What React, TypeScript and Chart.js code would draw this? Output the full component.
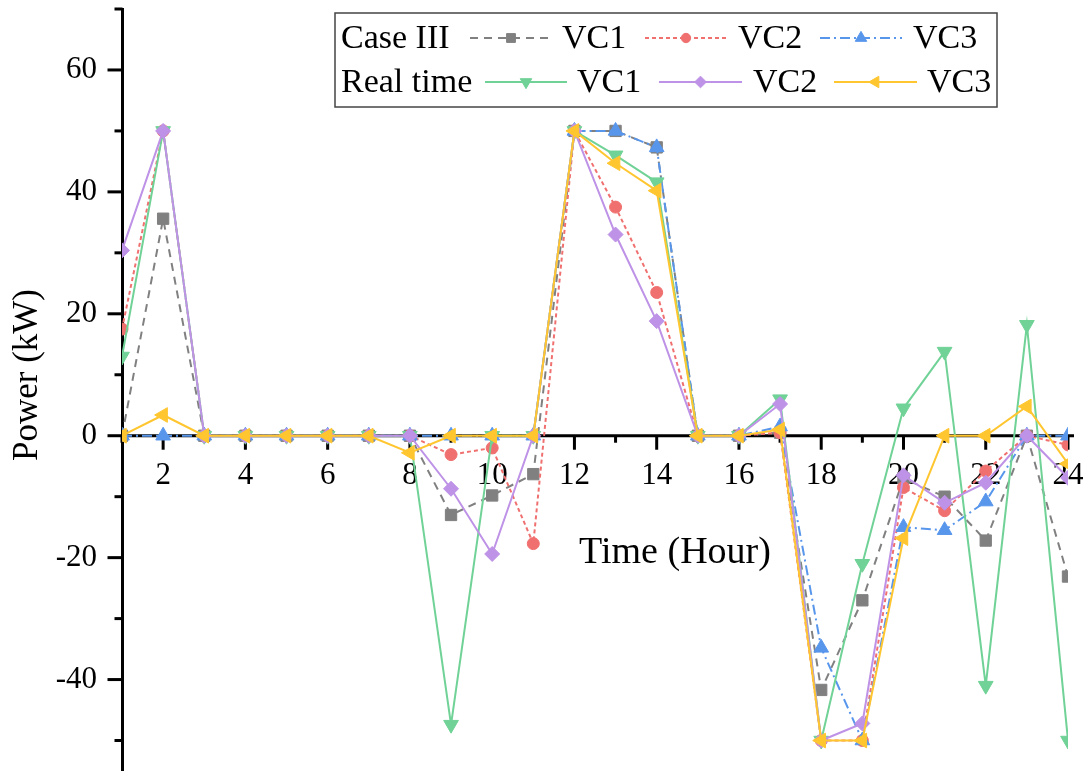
import React, { useEffect, useRef } from 'react';
import { Chart, registerables } from 'chart.js';
import { drawPoint } from 'chart.js/helpers';

Chart.register(...registerables);

const hours = [1, 2, 3, 4, 5, 6, 7, 8, 9, 10, 11, 12, 13, 14, 15, 16, 17, 18, 19, 20, 21, 22, 23, 24];

const caseIII_VC1 = [0, 35.6, 0, 0, 0, 0, 0, 0, -13, -9.8, -6.3, 50, 50, 47.3, 0, 0, 0.5, -41.7, -27, -7, -10, -17.2, 0, -23.1];
const caseIII_VC2 = [17.5, 50, 0, 0, 0, 0, 0, 0, -3.1, -2, -17.7, 50, 37.5, 23.5, 0, 0, 0.5, -50, -50, -8.5, -12.3, -5.8, 0, -1.5];
const caseIII_VC3 = [0, 0, 0, 0, 0, 0, 0, 0, 0, 0, 0, 50, 50, 47.3, 0, 0, 1.5, -34.8, -50, -15, -15.5, -10.8, 0, 0];
const real_VC1 = [13, 50, 0, 0, 0, 0, 0, 0, -47.4, 0, 0, 50, 46, 41.6, 0, 0, 6, -50, -21, 4.5, 13.8, -41, 18.2, -50];
const real_VC2 = [30.4, 50, 0, 0, 0, 0, 0, 0, -8.7, -19.4, 0, 50, 33, 18.8, 0, 0, 5.2, -50, -47.2, -6.5, -11, -7.7, 0, -6.9];
const real_VC3 = [0, 3.4, 0, 0, 0, 0, 0, -2.8, 0, 0, 0, 50, 44.7, 40.2, 0, 0, 1, -50, -50, -16.8, 0, 0, 4.8, -4.6];

const xTickValues = [2, 4, 6, 8, 10, 12, 14, 16, 18, 20, 22, 24];
const xMinorTickValues = [1, 3, 5, 7, 9, 11, 13, 15, 17, 19, 21, 23];
const yTickValues = [-40, -20, 0, 20, 40, 60];
const yMinorTickValues = [-50, -30, -10, 10, 30, 50, 70];

const groupLabels = ['Case III', 'Real time'];
const seriesLabels = ['VC1', 'VC2', 'VC3'];

const FONT = '"Liberation Serif", "Times New Roman", serif';

const pts = (vals: number[]) => vals.map((v, i) => ({ x: hours[i], y: v }));

const GRAY = 'rgb(128,128,128)';
const RED = 'rgb(240,112,112)';
const BLUE = 'rgb(88,150,236)';
const GREEN = 'rgb(112,210,150)';
const PURPLE = 'rgb(190,146,230)';
const YELLOW = 'rgb(255,198,48)';

function mk(label: string, vals: number[], color: string, dash: number[], style: string, radius: number, rotation: number, order: number) {
  return {
    label,
    data: pts(vals),
    borderColor: color,
    backgroundColor: color,
    borderWidth: 2,
    borderDash: dash,
    pointStyle: style,
    pointRadius: radius,
    pointRotation: rotation,
    pointBackgroundColor: color,
    pointBorderColor: color,
    pointBorderWidth: 1,
    tension: 0,
    order,
    clip: 0,
  };
}

const zeroPadding = (s: any) => {
  s.paddingLeft = 0;
  s.paddingRight = 0;
  s.paddingTop = 0;
  s.paddingBottom = 0;
};

const axesPlugin = {
  id: 'customAxes',
  beforeDatasetsDraw(chart: any) {
    const { ctx, chartArea, scales } = chart;
    const x = scales.x;
    const y = scales.y;
    ctx.save();
    ctx.strokeStyle = '#000';
    ctx.lineWidth = 3;
    ctx.lineCap = 'butt';
    const left = chartArea.left + 0.5;
    ctx.beginPath();
    ctx.moveTo(left, chartArea.top - 1);
    ctx.lineTo(left, chartArea.bottom + 2);
    ctx.stroke();
    yTickValues.forEach((v) => {
      const p = y.getPixelForValue(v);
      ctx.beginPath();
      ctx.moveTo(left - 15, p);
      ctx.lineTo(left, p);
      ctx.stroke();
    });
    yMinorTickValues.forEach((v) => {
      const p = y.getPixelForValue(v);
      ctx.beginPath();
      ctx.moveTo(left - 8, p);
      ctx.lineTo(left, p);
      ctx.stroke();
    });
    const y0 = y.getPixelForValue(0);
    ctx.beginPath();
    ctx.moveTo(left, y0);
    ctx.lineTo(chartArea.right + 6, y0);
    ctx.stroke();
    xTickValues.forEach((v) => {
      const p = x.getPixelForValue(v);
      ctx.beginPath();
      ctx.moveTo(p, y0);
      ctx.lineTo(p, y0 + 14);
      ctx.stroke();
    });
    xMinorTickValues.forEach((v) => {
      const p = x.getPixelForValue(v);
      ctx.beginPath();
      ctx.moveTo(p, y0);
      ctx.lineTo(p, y0 + 7);
      ctx.stroke();
    });
    ctx.restore();
  },
};

const legendLayout = [
  { rowY: 38, textX: 341, items: [
    { seg: [470, 552], textX: 562 },
    { seg: [645, 727], textX: 738 },
    { seg: [820, 902], textX: 913 },
  ] },
  { rowY: 82, textX: 341, items: [
    { seg: [485, 567], textX: 577 },
    { seg: [659, 742], textX: 753 },
    { seg: [834, 917], textX: 927 },
  ] },
];

const overlayPlugin = {
  id: 'overlay',
  afterDraw(chart: any) {
    const { ctx } = chart;
    ctx.save();
    ctx.fillStyle = '#000';
    ctx.font = `35px ${FONT}`;
    ctx.textAlign = 'center';
    ctx.textBaseline = 'middle';
    ctx.save();
    ctx.translate(28, 375);
    ctx.rotate(-Math.PI / 2);
    ctx.fillText('Power (kW)', 0, 0);
    ctx.restore();
    ctx.font = `38px ${FONT}`;
    ctx.textBaseline = 'alphabetic';
    ctx.fillText('Time (Hour)', 675, 563);

    ctx.fillStyle = '#fff';
    ctx.fillRect(335, 13, 662, 94);
    ctx.strokeStyle = '#444';
    ctx.lineWidth = 1.5;
    ctx.strokeRect(335, 13, 662, 94);

    ctx.font = `34px ${FONT}`;
    ctx.textAlign = 'left';
    ctx.textBaseline = 'middle';
    legendLayout.forEach((row, r) => {
      ctx.fillStyle = '#000';
      ctx.fillText(groupLabels[r], row.textX, row.rowY + 1);
      row.items.forEach((it, k) => {
        const ds = chart.data.datasets[r * 3 + k];
        ctx.save();
        ctx.strokeStyle = ds.borderColor;
        ctx.lineWidth = 2;
        ctx.setLineDash(ds.borderDash || []);
        ctx.beginPath();
        ctx.moveTo(it.seg[0], row.rowY);
        ctx.lineTo(it.seg[1], row.rowY);
        ctx.stroke();
        ctx.setLineDash([]);
        ctx.fillStyle = ds.pointBackgroundColor;
        ctx.strokeStyle = ds.pointBorderColor;
        ctx.lineWidth = 1;
        drawPoint(ctx, { pointStyle: ds.pointStyle, radius: ds.pointRadius * 0.78, rotation: ds.pointRotation, borderWidth: 1 }, (it.seg[0] + it.seg[1]) / 2, row.rowY);
        ctx.restore();
        ctx.fillStyle = '#000';
        ctx.fillText(seriesLabels[k], it.textX, row.rowY + 1);
      });
    });
    ctx.restore();
  },
};

export default function App() {
  const ref = useRef<HTMLCanvasElement>(null);
  useEffect(() => {
    if (!ref.current) return;
    const chart = new Chart(ref.current, {
      type: 'line',
      data: {
        datasets: [
          mk('Case III VC1', caseIII_VC1, GRAY, [8, 6], 'rect', 8, 0, 6),
          mk('Case III VC2', caseIII_VC2, RED, [4, 3], 'circle', 6, 0, 5),
          mk('Case III VC3', caseIII_VC3, BLUE, [10, 4, 2, 4], 'triangle', 8.5, 0, 4),
          mk('Real time VC1', real_VC1, GREEN, [], 'triangle', 8.5, 180, 3),
          mk('Real time VC2', real_VC2, PURPLE, [], 'rectRot', 7.5, 0, 2),
          mk('Real time VC3', real_VC3, YELLOW, [], 'triangle', 8.5, 270, 1),
        ] as any,
      },
      options: {
        responsive: false,
        animation: false,
        devicePixelRatio: 1,
        layout: { autoPadding: false, padding: { top: 9, right: 22, bottom: 0, left: 0 } },
        plugins: { legend: { display: false }, tooltip: { enabled: false }, title: { display: false } },
        scales: {
          x: {
            type: 'linear',
            min: 1,
            max: 24,
            position: { y: 0 } as any,
            afterBuildTicks: (s: any) => { s.ticks = xTickValues.map((v) => ({ value: v })); },
            afterFit: (s: any) => { s.height = 0; zeroPadding(s); },
            grid: { display: false, drawTicks: false },
            border: { display: false },
            ticks: { padding: 22, color: '#000', font: { family: FONT, size: 31 }, maxRotation: 0, autoSkip: false },
          },
          y: {
            type: 'linear',
            min: -55,
            max: 70,
            afterBuildTicks: (s: any) => { s.ticks = yTickValues.map((v) => ({ value: v })); },
            afterFit: (s: any) => { s.width = 122; zeroPadding(s); },
            grid: { display: false, drawTicks: false },
            border: { display: false },
            ticks: { padding: 25, color: '#000', font: { family: FONT, size: 31 } },
          },
        },
      } as any,
      plugins: [axesPlugin, overlayPlugin],
    });
    return () => chart.destroy();
  }, []);
  return (
    <div style={{ position: 'absolute', left: 0, top: 0, width: 1090, height: 771, background: '#fff' }}>
      <canvas ref={ref} width={1090} height={771} />
    </div>
  );
}
